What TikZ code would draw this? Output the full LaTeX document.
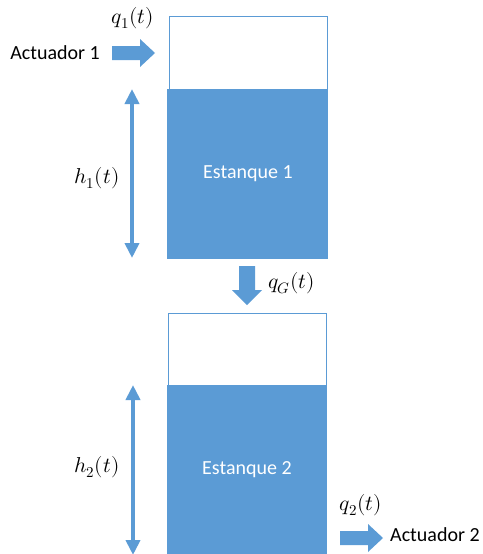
\documentclass[tikz,border=0pt]{standalone}
\usepackage{fontspec}
\setmainfont{Carlito}
\usepackage{unicode-math}
\usetikzlibrary{arrows.meta}
\definecolor{tankblue}{RGB}{91,155,213}
\tikzset{
  water/.style={fill=tankblue, draw=tankblue, line width=0.8pt},
  tankoutline/.style={draw=tankblue, line width=0.9pt},
  blockarrow/.style={fill=tankblue},
  levelarrow/.style={draw=tankblue, line width=4pt, {Triangle[width=14pt,length=15pt]}-{Triangle[width=14pt,length=15pt]}},
  lbl/.style={font=\fontsize{20}{24}\selectfont, inner sep=0pt},
  mlbl/.style={font=\fontsize{21.5}{25}\selectfont, inner sep=0pt},
  wlbl/.style={font=\fontsize{20}{24}\selectfont, text=white, inner sep=0pt}
}
\begin{document}
\begin{tikzpicture}[x=1pt,y=-1pt]
\useasboundingbox (0,0) rectangle (482,554);
% Tank 1
\draw[tankoutline] (169,16) rectangle (327,89);
\draw[water] (167,89) rectangle (327,258);
\node[wlbl] (e1) at (248,174) {Estanque 1};
% Tank 2
\draw[tankoutline] (168,313) rectangle (326,385);
\draw[water] (167,385) rectangle (326,560);
\node[wlbl] (e2) at (247,470) {Estanque 2};
% Actuator 1 arrow
\fill[blockarrow] (112,46) -- (140,46) -- (140,39) -- (155,53) -- (140,67) -- (140,60) -- (112,60) -- cycle;
\node[lbl, anchor=east] (a1) at (100,53) {Actuador 1};
\node[mlbl] (q1) at (133,18) {$q_1(t)$};
% level arrow 1
\coordinate (h1t) at (132,89);
\coordinate (h1b) at (132,258);
\draw[levelarrow] (h1t) -- (h1b);
\node[mlbl] (h1) at (97,178) {$h_1(t)$};
% qG arrow
\fill[blockarrow] (239,266) -- (255,266) -- (255,290) -- (262,290) -- (247,305) -- (232,290) -- (239,290) -- cycle;
\node[mlbl, anchor=west] (qg) at (268,283) {$q_G(t)$};
% level arrow 2
\coordinate (h2t) at (133,385);
\coordinate (h2b) at (133,555);
\draw[levelarrow] (h2t) -- (h2b);
\node[mlbl] (h2) at (97,467) {$h_2(t)$};
% Actuator 2 arrow
\fill[blockarrow] (340,531) -- (368,531) -- (368,524) -- (383,538) -- (368,552) -- (368,545) -- (340,545) -- cycle;
\node[lbl, anchor=west] (a2) at (390,535) {Actuador 2};
\node[mlbl] (q2) at (361,505) {$q_2(t)$};
\end{tikzpicture}
\end{document}
